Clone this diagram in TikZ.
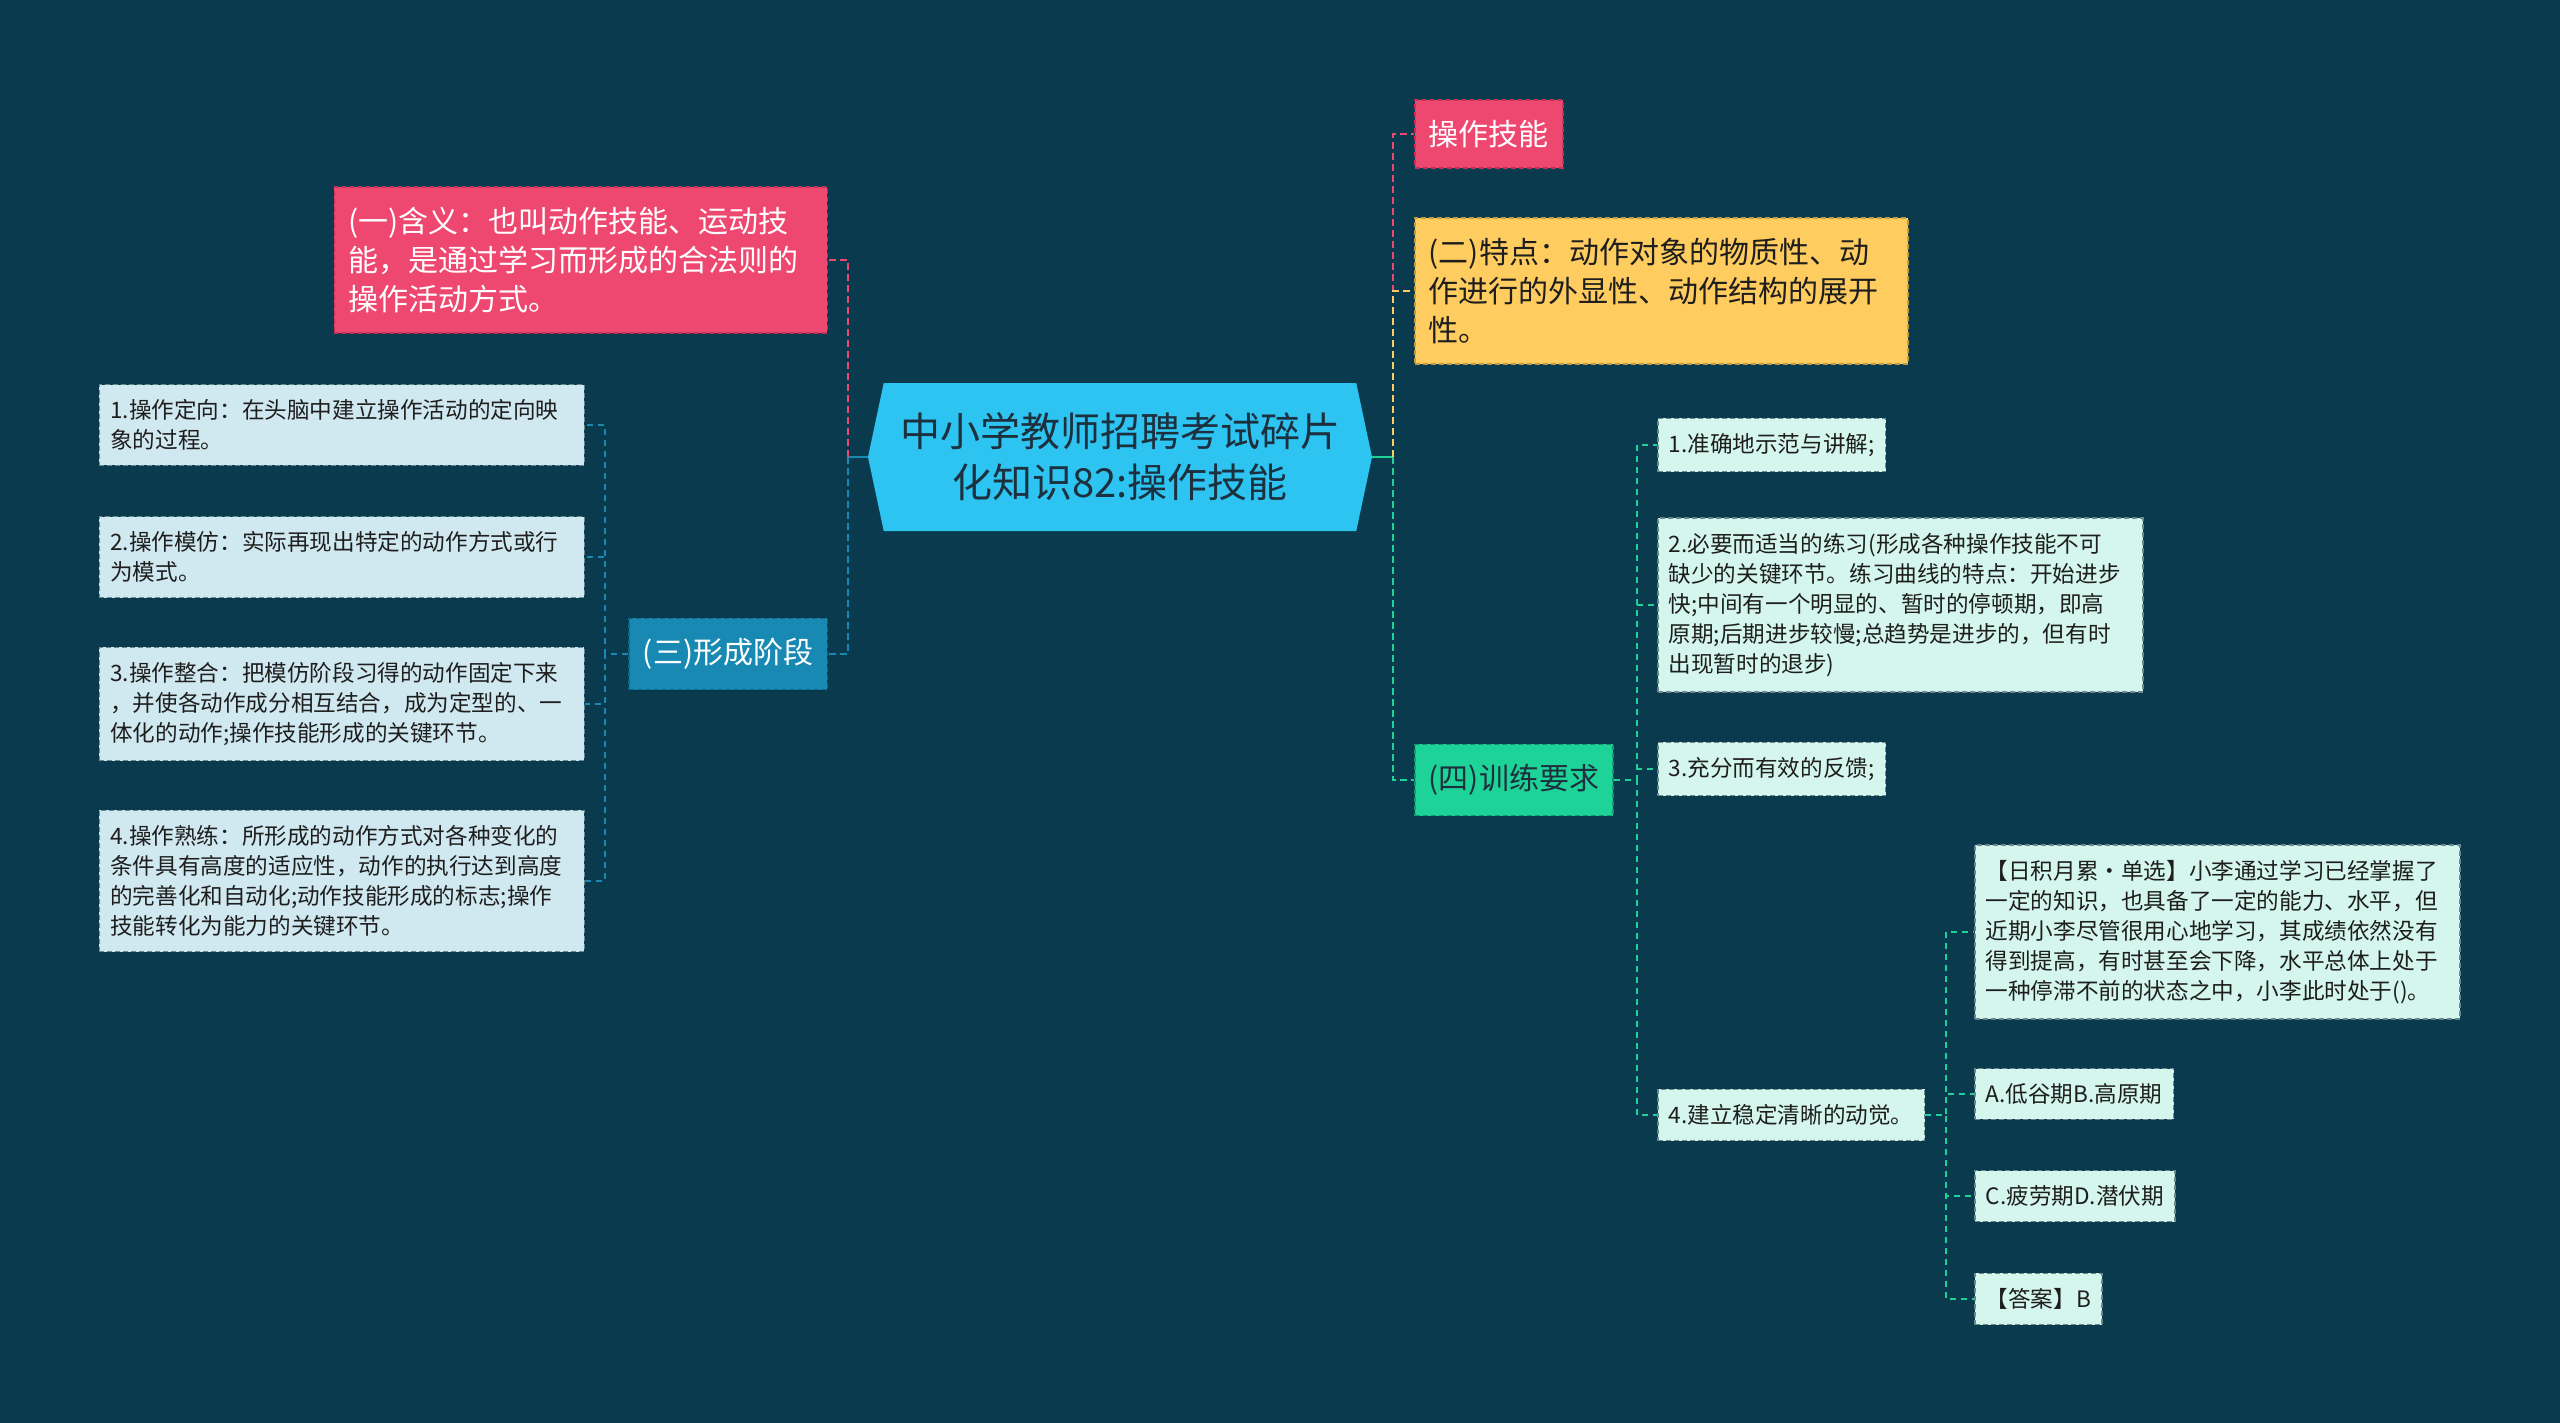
\documentclass[tikz,border=0pt]{standalone}
\usepackage{fontspec}
\newfontfamily\cjk{Noto Sans CJK SC}
\usetikzlibrary{shapes.symbols}

\definecolor{bgteal}{RGB}{10,58,78}
\definecolor{rosered}{RGB}{239,72,112}
\definecolor{roseedge}{RGB}{196,48,86}
\definecolor{sunyellow}{RGB}{255,205,95}
\definecolor{sunedge}{RGB}{196,152,60}
\definecolor{seagreen}{RGB}{30,211,152}
\definecolor{seaedge}{RGB}{20,150,110}
\definecolor{steelblue}{RGB}{24,137,178}
\definecolor{steeledge}{RGB}{16,100,135}
\definecolor{skyblue}{RGB}{45,196,242}
\definecolor{paleblue}{RGB}{208,232,240}
\definecolor{palemint}{RGB}{212,246,237}
\definecolor{leafedge}{RGB}{105,135,140}
\definecolor{inkdark}{RGB}{30,30,30}
\definecolor{titleink}{RGB}{28,48,62}

\begin{document}
\begin{tikzpicture}[x=1pt,y=-1pt,
	title/.style={signal, signal to=east and west, signal pointer angle=156, fill=skyblue, text=titleink,
		minimum width=504pt, minimum height=148pt, align=center, font=\cjk\fontsize{40}{51}\selectfont},
	topic/.style={draw, dash pattern=on 5pt off 3pt, line width=1.5pt, inner xsep=14pt, inner ysep=20pt,
		align=left, font=\cjk\fontsize{30}{39}\selectfont},
	leaf/.style={draw=leafedge, dash pattern=on 5pt off 3pt, line width=1.5pt, inner xsep=11pt, inner ysep=15pt,
		align=left, text=inkdark, font=\cjk\fontsize{22.6}{30}\selectfont},
	wide/.style={text width=463pt},
	stageleaf/.style={leaf, fill=paleblue},
	trainleaf/.style={leaf, fill=palemint},
	branch/.style={dash pattern=on 7pt off 4pt, line width=2.5pt},
	twig/.style={dash pattern=on 6pt off 5pt, line width=2pt},
	stub/.style={line width=2.5pt}]
	\fill[bgteal] (0,0) rectangle (2560,1423);

	\node[title] (title) at (1120,457) {中小学教师招聘考试碎片\\化知识82:操作技能};

	\node[topic, fill=rosered, draw=roseedge, text=white, text width=465pt, anchor=east] (meaning) at (828,260)
		{(一)含义：也叫动作技能、运动技\\能，是通过学习而形成的合法则的\\操作活动方式。};
	\node[topic, fill=steelblue, draw=steeledge, text=white, anchor=east] (stage) at (828,654) {(三)形成阶段};
	\node[topic, fill=rosered, draw=roseedge, text=white, anchor=west] (skill) at (1414,134) {操作技能};
	\node[topic, fill=sunyellow, draw=sunedge, text=inkdark, text width=465pt, anchor=west] (trait) at (1414,291)
		{(二)特点：动作对象的物质性、动\\作进行的外显性、动作结构的展开\\性。};
	\node[topic, fill=seagreen, draw=seaedge, text=titleink, anchor=west] (train) at (1414,780) {(四)训练要求};

	\node[stageleaf, wide, anchor=east] (s1) at (585,425)
		{1.操作定向：在头脑中建立操作活动的定向映\\象的过程。};
	\node[stageleaf, wide, anchor=east] (s2) at (585,557)
		{2.操作模仿：实际再现出特定的动作方式或行\\为模式。};
	\node[stageleaf, wide, anchor=east] (s3) at (585,704)
		{3.操作整合：把模仿阶段习得的动作固定下来\\，并使各动作成分相互结合，成为定型的、一\\体化的动作;操作技能形成的关键环节。};
	\node[stageleaf, wide, anchor=east] (s4) at (585,881)
		{4.操作熟练：所形成的动作方式对各种变化的\\条件具有高度的适应性，动作的执行达到高度\\的完善化和自动化;动作技能形成的标志;操作\\技能转化为能力的关键环节。};

	\node[trainleaf, anchor=west] (t1) at (1657,445) {1.准确地示范与讲解;};
	\node[trainleaf, wide, anchor=west] (t2) at (1657,605)
		{2.必要而适当的练习(形成各种操作技能不可\\缺少的关键环节。练习曲线的特点：开始进步\\快;中间有一个明显的、暂时的停顿期，即高\\原期;后期进步较慢;总趋势是进步的，但有时\\出现暂时的退步)};
	\node[trainleaf, anchor=west] (t3) at (1657,769) {3.充分而有效的反馈;};
	\node[trainleaf, anchor=west] (t4) at (1657,1115) {4.建立稳定清晰的动觉。};

	\node[trainleaf, wide, anchor=west] (q1) at (1974,932)
		{【日积月累·单选】小李通过学习已经掌握了\\一定的知识，也具备了一定的能力、水平，但\\近期小李尽管很用心地学习，其成绩依然没有\\得到提高，有时甚至会下降，水平总体上处于\\一种停滞不前的状态之中，小李此时处于()。};
	\node[trainleaf, anchor=west] (q2) at (1974,1094) {A.低谷期B.高原期};
	\node[trainleaf, anchor=west] (q3) at (1974,1196) {C.疲劳期D.潜伏期};
	\node[trainleaf, anchor=west] (q4) at (1974,1299) {【答案】B};

	\draw[stub, steelblue] (title.west) -- ++(-20,0) coordinate (ltrunk);
	\draw[stub, seagreen] (title.east) -- ++(21,0) coordinate (rtrunk);
	\draw[branch, rosered] (ltrunk) |- (meaning.east);
	\draw[branch, steelblue] (ltrunk) |- (stage.east);
	\draw[branch, rosered] (rtrunk) |- (skill.west);
	\draw[branch, sunyellow] (rtrunk) |- (trait.west);
	\draw[branch, seagreen] (rtrunk) |- (train.west);

	\foreach \n in {s1,s2,s3,s4}
		\draw[twig, steelblue] (stage.west) -- ++(-23,0) |- (\n.east);
	\foreach \n in {t1,t2,t3,t4}
		\draw[twig, seagreen] (train.east) -- ++(23,0) |- (\n.west);
	\foreach \n in {q1,q2,q3,q4}
		\draw[twig, seagreen] (t4.east) -- ++(21,0) |- (\n.west);
\end{tikzpicture}
\end{document}
